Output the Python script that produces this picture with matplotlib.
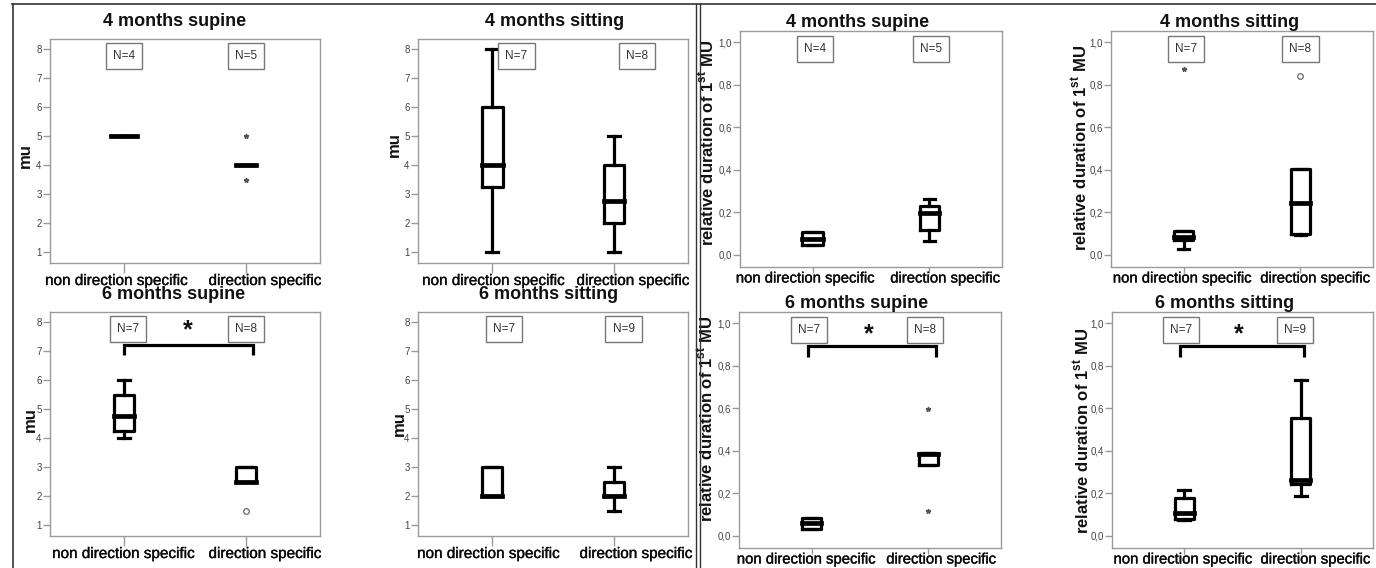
import matplotlib
matplotlib.use('Agg')
import matplotlib.pyplot as plt
from matplotlib.lines import Line2D
import matplotlib.transforms as mtransforms
import matplotlib.patheffects as pe

plt.rcParams['font.family'] = ['Liberation Sans', 'DejaVu Sans']
plt.rcParams['mathtext.fontset'] = 'custom'
plt.rcParams['mathtext.rm'] = 'Liberation Sans'
plt.rcParams['mathtext.bf'] = 'Liberation Sans:bold'

# ---------------- data ----------------
categories = ['non direction specific', 'direction specific']
positions = [1, 2]

titles = ['4 months supine', '4 months sitting', '6 months supine', '6 months sitting']

mu_ticks = [1, 2, 3, 4, 5, 6, 7, 8]
mu_tick_labels = ['1', '2', '3', '4', '5', '6', '7', '8']
rel_ticks = [0.0, 0.2, 0.4, 0.6, 0.8, 1.0]
rel_tick_labels = ['0,0', '0,2', '0,4', '0,6', '0,8', '1,0']

# box statistics: [whisker low, Q1, median, Q3, whisker high]
mu_4sup_nds = [5, 5, 5, 5, 5]
mu_4sup_ds = [4, 4, 4, 4, 4]
mu_4sit_nds = [1, 3.25, 4, 6, 8]
mu_4sit_ds = [1, 2, 2.75, 4, 5]
mu_6sup_nds = [4, 4.25, 4.75, 5.5, 6]
mu_6sup_ds = [2.5, 2.5, 2.5, 3, 3]
mu_6sit_nds = [2, 2, 2, 3, 3]
mu_6sit_ds = [1.5, 2, 2, 2.5, 3]

rel_4sup_nds = [0.045, 0.045, 0.076, 0.108, 0.108]
rel_4sup_ds = [0.066, 0.118, 0.197, 0.227, 0.26]
rel_4sit_nds = [0.027, 0.067, 0.083, 0.112, 0.112]
rel_4sit_ds = [0.092, 0.097, 0.245, 0.403, 0.403]
rel_6sup_nds = [0.03, 0.03, 0.058, 0.083, 0.083]
rel_6sup_ds = [0.332, 0.332, 0.383, 0.39, 0.39]
rel_6sit_nds = [0.075, 0.078, 0.108, 0.177, 0.214]
rel_6sit_ds = [0.187, 0.245, 0.263, 0.555, 0.734]

# outliers: (category index, value, kind)  kind '*' extreme, 'o' outlier
mu_4sup_outliers = [(1, 5.0, '*'), (1, 3.5, '*')]
mu_6sup_outliers = [(1, 1.5, 'o')]
rel_4sit_outliers = [(0, 0.873, '*'), (1, 0.842, 'o')]
rel_6sup_outliers = [(1, 0.594, '*'), (1, 0.117, '*')]

# group sizes
n_4sup = [4, 5]
n_4sit = [7, 8]
n_6sup = [7, 8]
n_6sit = [7, 9]

# ---------------- layout ----------------
W, H = 1376, 568
fig = plt.figure(figsize=(W / 100, H / 100), dpi=100)


def rect(x0, y0, x1, y1):
    return [x0 / W, 1 - y1 / H, (x1 - x0) / W, (y1 - y0) / H]


panels = [
    dict(rect=rect(50, 39, 320, 263), kind='mu', title=titles[0], tx=0.463,
         stats=(mu_4sup_nds, mu_4sup_ds), widths=[0.21, 0.16], n=n_4sup, noff=[0.0, 0.0],
         outliers=mu_4sup_outliers, sig=None, yl=(-0.063, 0.478), lab=(-8, 19)),
    dict(rect=rect(418, 39, 688, 263), kind='mu', title=titles[1], tx=0.507,
         stats=(mu_4sit_nds, mu_4sit_ds), widths=[0.17, 0.16], n=n_4sit, noff=[0.2, 0.19],
         outliers=[], sig=None, yl=(-0.059, 0.527), lab=(1, 19)),
    dict(rect=rect(50, 312, 320, 536), kind='mu', title=titles[2], tx=0.456,
         stats=(mu_6sup_nds, mu_6sup_ds), widths=[0.165, 0.165], n=n_6sup, noff=[0.03, 0.0],
         outliers=mu_6sup_outliers, sig=(1.0, 2.06, 7.21, 6.86, 1.52, 7.72),
         yl=(-0.046, 0.518), lab=(-1, 19)),
    dict(rect=rect(418, 312, 688, 536), kind='mu', title=titles[3], tx=0.485,
         stats=(mu_6sit_nds, mu_6sit_ds), widths=[0.165, 0.16], n=n_6sit, noff=[0.1, 0.08],
         outliers=[], sig=None, yl=(-0.043, 0.504), lab=(-4, 22)),
    dict(rect=rect(740, 31, 1002, 267), kind='rel', title=titles[0], tx=0.447,
         stats=(rel_4sup_nds, rel_4sup_ds), widths=[0.175, 0.155], n=n_4sup, noff=[0.02, 0.01],
         outliers=[], sig=None, yl=(-0.088, 0.525), lab=(-7, 16)),
    dict(rect=rect(1111, 31, 1373, 267), kind='rel', title=titles[1], tx=0.454,
         stats=(rel_4sit_nds, rel_4sit_ds), widths=[0.16, 0.16], n=n_4sit, noff=[0.02, 0.0],
         outliers=rel_4sit_outliers, sig=None, yl=(-0.080, 0.504), lab=(-1, 15)),
    dict(rect=rect(739, 312, 1001, 548), kind='rel', title=titles[2], tx=0.45,
         stats=(rel_6sup_nds, rel_6sup_ds), widths=[0.17, 0.17], n=n_6sup, noff=[-0.02, -0.03],
         outliers=rel_6sup_outliers, sig=(0.97, 2.06, 0.89, 0.84, 1.49, 0.945),
         yl=(-0.088, 0.547), lab=(-5, 13)),
    dict(rect=rect(1112, 312, 1373, 548), kind='rel', title=titles[3], tx=0.433,
         stats=(rel_6sit_nds, rel_6sit_ds), widths=[0.16, 0.16], n=n_6sit, noff=[-0.03, -0.05],
         outliers=[], sig=(0.96, 2.03, 0.89, 0.84, 1.47, 0.945),
         yl=(-0.077, 0.496), lab=(-1, 15)),
]

BOX_LW = 2.3
MED_LW = 3.4
SPINE_C = '#9a9a9a'

for p in panels:
    ax = fig.add_axes(p['rect'])
    mu = p['kind'] == 'mu'
    stats = []
    for s in p['stats']:
        stats.append(dict(whislo=s[0], q1=s[1], med=s[2], q3=s[3], whishi=s[4], fliers=[]))
    ax.bxp(stats, positions=positions, widths=p['widths'], capwidths=0.1,
           showfliers=False,
           boxprops=dict(color='black', lw=BOX_LW),
           whiskerprops=dict(color='black', lw=BOX_LW),
           capprops=dict(color='black', lw=BOX_LW),
           medianprops=dict(color='black', lw=MED_LW, solid_capstyle='projecting'))
    for ci, val, kind in p['outliers']:
        if kind == '*':
            ax.plot(positions[ci], val, marker='*', ms=3.5, color='#555555', mec='#555555',
                    ls='none', zorder=5)
        else:
            ax.plot(positions[ci], val, marker='o', ms=4, mfc='white', mec='#666666',
                    mew=0.9, ls='none', zorder=5)

    if mu:
        ax.set_ylim(0.62, 8.36)
        ax.set_yticks(mu_ticks)
        ax.set_yticklabels(mu_tick_labels)
        ax.set_xlim(0.39, 2.61)
        ax.set_ylabel('mu', fontsize=12, fontweight='bold', color='#111111')
        ax.tick_params(axis='x', length=7)
        ty = 1.076
        xfs = 11
        lab_dy = -18
    else:
        ax.set_ylim(-0.058, 1.052)
        ax.set_yticks(rel_ticks)
        ax.set_yticklabels(rel_tick_labels)
        ax.set_xlim(0.38, 2.62)
        ax.set_ylabel(r'relative duration of 1$^{\mathbf{st}}$ MU', fontsize=12,
                      fontweight='bold', color='#111111')
        ax.tick_params(axis='x', length=4)
        ty = 1.038
        xfs = 10.7
        lab_dy = -11.5
    ax.yaxis.set_label_coords(*p['yl'])

    ax.set_xticks(positions)
    ax.tick_params(axis='x', color=SPINE_C, width=1, labelbottom=False)
    ax.tick_params(axis='y', length=5, pad=1, labelsize=7, labelcolor='#444444',
                   color=SPINE_C, width=1)
    for sp in ax.spines.values():
        sp.set_color(SPINE_C)
        sp.set_linewidth(1)

    # category labels under the axis (shifted like in the source figure)
    base = mtransforms.blended_transform_factory(ax.transData, ax.transAxes)
    for i, cat in enumerate(categories):
        tr = base + mtransforms.ScaledTranslation(p['lab'][i] / 100, lab_dy / 100,
                                                  fig.dpi_scale_trans)
        t = ax.text(positions[i], 0, cat, transform=tr, ha='center', va='center',
                    fontsize=xfs, color='#0a0a0a', clip_on=False)
        t.set_path_effects([pe.withStroke(linewidth=0.25, foreground='#0a0a0a')])

    ax.text(p['tx'], ty, p['title'], transform=ax.transAxes, ha='center', va='center',
            fontsize=13, fontweight='bold', color='#111111')

    for i, nval in enumerate(p['n']):
        ax.text(positions[i] + p['noff'][i], 0.925, 'N=%d' % nval, transform=base,
                ha='center', va='center', fontsize=8.5, color='#333333',
                bbox=dict(boxstyle='square,pad=0.6', fc='white', ec='#777777', lw=1))

    if p['sig'] is not None:
        x0, x1, yb, yl, sx, sy = p['sig']
        ax.plot([x0, x0, x1, x1], [yl, yb, yb, yl], color='black', lw=2.3,
                solid_joinstyle='miter', solid_capstyle='butt')
        ax.text(sx, sy, '*', ha='center', va='center', fontsize=18, fontweight='bold',
                color='#111111')

# outer frames
fc = '#333333'
fig.add_artist(Line2D([12.5 / W, 12.5 / W], [0, 1 - 4 / H], color=fc, lw=1.2))
fig.add_artist(Line2D([12 / W, 1], [1 - 4 / H, 1 - 4 / H], color=fc, lw=1.2))
fig.add_artist(Line2D([695.5 / W, 695.5 / W], [0, 1 - 4 / H], color=fc, lw=1.0))
fig.add_artist(Line2D([699.5 / W, 699.5 / W], [0, 1 - 4 / H], color=fc, lw=1.0))

fig.savefig('out.png', dpi=100)
